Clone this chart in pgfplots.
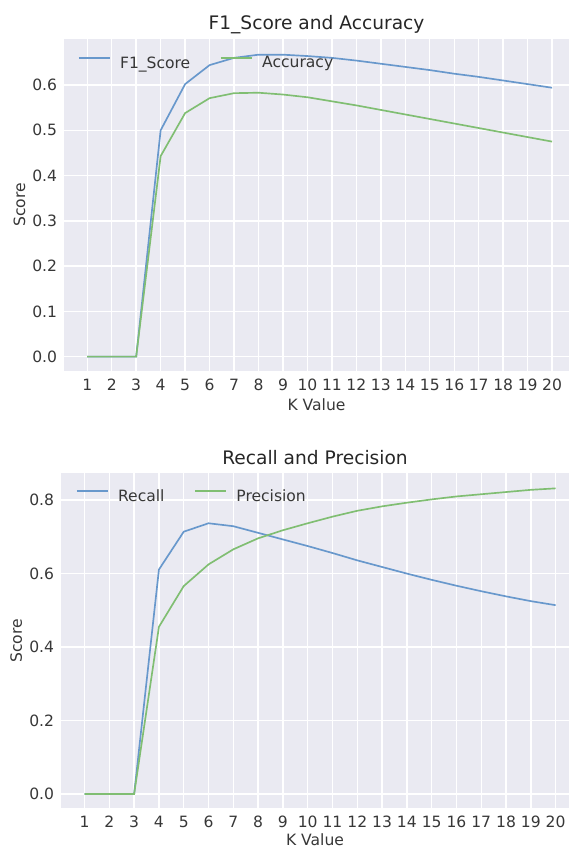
\documentclass[border=0pt]{standalone}
\usepackage{fontspec}
\setmainfont{DejaVu Sans}
\usepackage{pgfplots}
\pgfplotsset{compat=1.18}
\definecolor{bgc}{RGB}{234,234,242}
\definecolor{lblue}{RGB}{104,152,204}
\definecolor{lgreen}{RGB}{128,190,114}
\definecolor{txt}{RGB}{55,55,55}

\pgfplotsset{
  dg/.style={
    scale only axis,
    axis background/.style={fill=bgc},
    axis line style={draw=none},
    major tick length=0pt,
    grid=major,
    major grid style={white, line width=1pt},
    xtick={1,...,20},
    xmin=0.05,
    tick label style={font=\fontsize{11.2}{13}\selectfont, text=txt},
    /pgf/number format/assume math mode=true,
    yticklabel style={/pgf/number format/fixed, /pgf/number format/fixed zerofill,
      /pgf/number format/precision=1, anchor=east, xshift=-1.5pt},
    xticklabel style={anchor=base, yshift=-14pt},
    label style={font=\fontsize{11.2}{13}\selectfont, text=txt},
    title style={font=\fontsize{13.4}{15}\selectfont, text=black!85, anchor=base, yshift=0pt},
    xlabel={K Value},
    ylabel={Score},
    ylabel style={at={(axis description cs:-0.077,0.5)}, anchor=base},
    every axis plot/.append style={line width=1.2pt, no markers},
    legend style={draw=none, fill=none, inner sep=0pt, outer sep=0pt,
      legend columns=2, font=\fontsize{11.2}{13}\selectfont, text=txt,
      nodes={inner sep=0pt},
      /tikz/every odd column/.append style={column sep=6.8pt},
      /tikz/every even column/.append style={column sep=21.5pt},
      anchor=north west},
    legend image code/.code={\draw[##1] (0pt,3.9pt) -- (22.3pt,3.9pt);},
  }
}

\begin{document}
\begin{tikzpicture}
\begin{axis}[dg,
  at={(46.08pt,-28.3pt)}, anchor=north west,
  width=363.6pt, height=238.6pt,
  xmax=20.69, ymin=-0.031, ymax=0.701,
  ytick={0,0.1,0.2,0.3,0.4,0.5,0.6},
  title={F1\_Score and Accuracy},
  title style={at={(axis description cs:0.5,1.004)}},
  xlabel style={at={(axis description cs:0.5,-0.12)}, anchor=base},
  legend style={at={(axis description cs:0.0277,0.948)}},
]
\addplot[lblue] coordinates {
  (1,0) (2,0) (3,0) (4,0.500) (5,0.602) (6,0.644) (7,0.660) (8,0.667) (9,0.667) (10,0.664)
  (11,0.660) (12,0.654) (13,0.647) (14,0.640) (15,0.633) (16,0.625) (17,0.618) (18,0.610) (19,0.602) (20,0.594)
};
\addplot[lgreen] coordinates {
  (1,0) (2,0) (3,0) (4,0.443) (5,0.538) (6,0.571) (7,0.582) (8,0.583) (9,0.579) (10,0.573)
  (11,0.564) (12,0.555) (13,0.545) (14,0.535) (15,0.525) (16,0.515) (17,0.505) (18,0.495) (19,0.485) (20,0.475)
};
\legend{F1\_Score, Accuracy}
\end{axis}

\begin{axis}[dg,
  at={(43.92pt,-340.78pt)}, anchor=north west,
  width=365.76pt, height=241.2pt,
  xmax=20.54, ymin=-0.039, ymax=0.873,
  ytick={0,0.2,0.4,0.6,0.8},
  title={Recall and Precision},
  title style={at={(axis description cs:0.5,1.0)}},
  xlabel style={at={(axis description cs:0.5,-0.112)}, anchor=base},
  legend style={at={(axis description cs:0.0295,0.952)}},
]
\addplot[lblue] coordinates {
  (1,0) (2,0) (3,0) (4,0.611) (5,0.714) (6,0.737) (7,0.729) (8,0.711) (9,0.693) (10,0.675)
  (11,0.656) (12,0.636) (13,0.618) (14,0.600) (15,0.583) (16,0.567) (17,0.552) (18,0.538) (19,0.525) (20,0.514)
};
\addplot[lgreen] coordinates {
  (1,0) (2,0) (3,0) (4,0.455) (5,0.566) (6,0.625) (7,0.666) (8,0.696) (9,0.718) (10,0.737)
  (11,0.755) (12,0.771) (13,0.783) (14,0.793) (15,0.802) (16,0.810) (17,0.816) (18,0.822) (19,0.828) (20,0.832)
};
\legend{Recall, Precision}
\end{axis}
\pgfresetboundingbox
\path[use as bounding box] (0,0) rectangle (409.68pt,-612pt);
\end{tikzpicture}
\end{document}
